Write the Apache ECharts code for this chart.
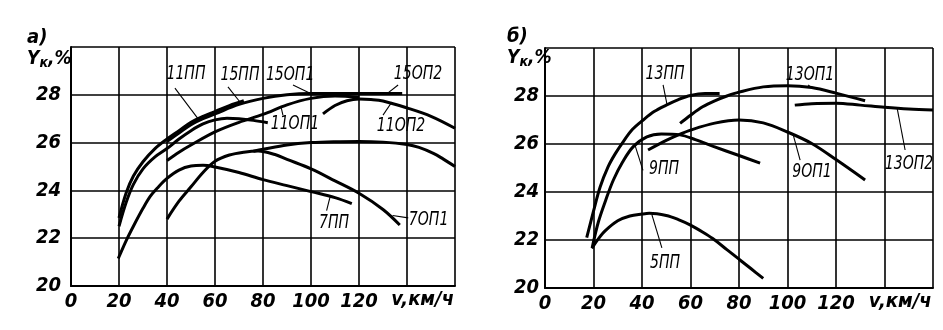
<!DOCTYPE html>
<html><head><meta charset="utf-8">
<script src="https://cdn.jsdelivr.net/npm/echarts/dist/echarts.min.js"></script>
<style>html,body{margin:0;padding:0;background:#fff}#c{width:943px;height:330px}</style>
</head><body><div id="c"></div>
<script>
// ---- axis tick labels ----
const xTickLabels = [0, 20, 40, 60, 80, 100, 120];
const yTickLabels = [20, 22, 24, 26, 28];
const xUnit = 'v,км/ч';
const yName = ['Y', 'к', ',%'];
const panelTitles = ['а)', 'б)'];

// ---- panel a curves: [v km/h, Yk %] ----
const a11PP  = [[20,22.5],[23,23.5],[26,24.25],[30,24.9],[35,25.4],[40,25.75],[45,26.15],[50,26.5],[55,26.78],[60,26.95],[65,27.02],[70,27.0],[76,26.93],[82,26.83]];
const a15PP  = [[20,22.85],[23,23.9],[26,24.6],[30,25.2],[35,25.75],[40,26.15],[45,26.5],[50,26.85],[55,27.1],[60,27.3],[66,27.55],[72,27.75]];
const a15OP1 = [[40,26.05],[45,26.4],[50,26.75],[55,27.0],[60,27.2],[70,27.6],[80,27.85],[90,28.0],[100,28.05],[108,28.05],[114,28.03]];
const a15OP2 = [[100,28.03],[110,28.05],[120,28.05],[130,28.05],[138,28.05]];
const a11OP1 = [[40,25.25],[45,25.6],[50,25.9],[60,26.45],[70,26.85],[80,27.18],[90,27.58],[100,27.85],[110,27.95],[120,27.9]];
const a11OP2 = [[105,27.2],[110,27.55],[115,27.75],[120,27.82],[125,27.8],[130,27.74],[140,27.45],[150,27.1],[160,26.6]];
const a7PP   = [[19.7,21.15],[23,21.9],[26,22.5],[30,23.25],[33,23.75],[36,24.1],[40,24.5],[45,24.85],[50,25.02],[55,25.05],[60,24.98],[70,24.75],[80,24.45],[90,24.2],[100,23.95],[110,23.7],[117,23.45]];
const a7OP1  = [[40,22.8],[45,23.55],[50,24.15],[55,24.75],[60,25.22],[66,25.48],[72,25.6],[78,25.65],[85,25.5],[90,25.3],[100,24.9],[110,24.4],[120,23.88],[130,23.2],[137,22.55]];
const a7OP2  = [[76,25.64],[80,25.72],[90,25.9],[100,26.0],[110,26.04],[120,26.05],[130,26.02],[140,25.92],[145,25.8],[151,25.55],[155,25.32],[160,25.0]];

// ---- panel b curves ----
const b13PP  = [[17.2,22.1],[20,23.2],[22.7,24.2],[26,25.05],[29,25.6],[32.3,26.1],[36,26.6],[40.5,27.0],[45,27.35],[50,27.62],[55,27.85],[60,28.02],[66,28.1],[72,28.1]];
const b9PP   = [[19.5,21.7],[22,22.75],[25,23.65],[28.2,24.5],[32,25.25],[36.4,25.89],[42,26.3],[48,26.42],[55.7,26.38],[62,26.18],[69.4,25.9],[80,25.52],[88.7,25.2]];
const b5PP   = [[19.3,21.65],[22,22.05],[25,22.4],[30,22.8],[35,23.0],[40,23.08],[43,23.11],[50,23.02],[55,22.85],[60,22.62],[65,22.33],[69,22.07],[75,21.6],[80,21.2],[85,20.8],[90,20.4]];
const b9OP1  = [[42.5,25.75],[50,26.15],[55,26.38],[60,26.58],[70,26.87],[80,27.0],[90,26.88],[100,26.5],[110,26.02],[120,25.35],[132,24.5]];
const b13OP1 = [[55.7,26.86],[60,27.2],[65,27.55],[70,27.8],[75,28.0],[80,28.16],[90,28.38],[100,28.43],[110,28.35],[120,28.12],[132,27.8]];
const b13OP2 = [[103,27.62],[110,27.68],[120,27.7],[130,27.62],[140,27.53],[150,27.46],[160,27.42]];

// ---- curve names with label anchor and leader ends (data units) ----
const curveNamesA = ['11ПП','15ПП','15ОП1','15ОП2','11ОП1','11ОП2','7ПП','7ОП1'];
const labelAtA    = [[47.9,28.87],[70.4,28.83],[91.3,28.83],[144.6,28.87],[93.3,26.78],[137.5,26.69],[109.6,22.64],[149,22.76]];
const leaderA     = [[[43.3,28.28],[52.9,27.0]],[[65.4,28.33],[70.4,27.7]],[[92.5,28.41],[99.6,28.06]],[[136.3,28.41],[131.7,28.05]],
                     [[88.3,27.15],[87.5,27.5]],[[130,27.15],[133.7,27.7]],[[106.5,23.15],[108,23.75]],[[140.5,22.85],[134,22.95]]];
const curveNamesB = ['13ПП','13ОП1','9ПП','9ОП1','13ОП2','5ПП'];
const labelAtB    = [[49.5,28.92],[109.3,28.88],[49.1,24.96],[110.1,24.83],[150.1,25.17],[49.5,21.04]];
const leaderB     = [[[48.7,28.46],[50.3,27.65]],[[108.5,28.46],[110,28.35]],[[40.4,24.9],[37.1,25.95]],[[105.2,25.33],[102.3,26.4]],
                     [[148.5,25.75],[145.2,27.5]],[[48.2,21.67],[44.1,23.05]]];

const curvesA = [a11PP,a15PP,a15OP1,a15OP2,a11OP1,a11OP2,a7PP,a7OP1,a7OP2];
const curvesB = [b13PP,b9PP,b5PP,b9OP1,b13OP1,b13OP2];

const FONT = "'Liberation Sans Narrow','DejaVu Sans Condensed',sans-serif";

function xAx(gi, margin){
  return {type:'value', gridIndex:gi, min:0, max:160, interval:20,
    axisLine:{show:true, onZero:false, lineStyle:{color:'#000', width:2}},
    axisTick:{show:false},
    splitLine:{show:true, lineStyle:{color:'#000', width:1.6}},
    axisLabel:{color:'#000', fontFamily:FONT, fontStyle:'italic', fontWeight:'bold', fontSize:20, margin:margin,
      formatter: v => xTickLabels.includes(v) ? String(v) : ''}};
}
function yAx(gi, margin){
  return {type:'value', gridIndex:gi, min:20, max:30, interval:2,
    axisLine:{show:true, onZero:false, lineStyle:{color:'#000', width:2}},
    axisTick:{show:false},
    splitLine:{show:true, lineStyle:{color:'#000', width:1.6}},
    axisLabel:{color:'#000', fontFamily:FONT, fontStyle:'italic', fontWeight:'bold', fontSize:20, margin:margin,
      formatter: v => yTickLabels.includes(v) ? String(v) : ''}};
}

const series = [];
curvesA.forEach(d => series.push({type:'line', xAxisIndex:0, yAxisIndex:0, data:d, smooth:0.35, showSymbol:false, silent:true,
  lineStyle:{color:'#000', width:3}}));
curvesB.forEach(d => series.push({type:'line', xAxisIndex:1, yAxisIndex:1, data:d, smooth:0.35, showSymbol:false, silent:true,
  lineStyle:{color:'#000', width:3}}));
leaderA.forEach(d => series.push({type:'line', xAxisIndex:0, yAxisIndex:0, data:d, showSymbol:false, silent:true,
  lineStyle:{color:'#000', width:1.1}}));
leaderB.forEach(d => series.push({type:'line', xAxisIndex:1, yAxisIndex:1, data:d, showSymbol:false, silent:true,
  lineStyle:{color:'#000', width:1.1}}));

const chart = echarts.init(document.getElementById('c'), null, {renderer:'canvas'});
chart.setOption({
  animation:false,
  backgroundColor:'#fff',
  grid:[{left:71, top:47, width:384, height:239}, {left:545, top:48, width:388, height:240}],
  xAxis:[xAx(0,6), xAx(1,6)],
  yAxis:[yAx(0,10), yAx(1,6)],
  series: series
});

// text annotations placed through the axes' own scales
const g = [];
function addLabel(gi, name, at){
  const p = chart.convertToPixel({gridIndex:gi}, at);
  g.push({type:'text', x:p[0], y:p[1], scaleX:0.78, silent:true,
    style:{text:name, fill:'#000', font:"italic 20px " + FONT, textAlign:'center', textVerticalAlign:'middle'}});
}
curveNamesA.forEach((n,i) => addLabel(0, n, labelAtA[i]));
curveNamesB.forEach((n,i) => addLabel(1, n, labelAtB[i]));

function addTitle(x, y, gi){
  g.push({type:'text', x:x, y:y, silent:true,
    style:{text:panelTitles[gi], fill:'#000', font:"italic bold 20px " + FONT, textAlign:'left', textVerticalAlign:'middle'}});
  g.push({type:'text', x:x, y:y+21, silent:true,
    style:{text:'{a|' + yName[0] + '}{b|' + yName[1] + '}{a|' + yName[2] + '}', textAlign:'left', textVerticalAlign:'middle',
      rich:{a:{fill:'#000', fontFamily:FONT, fontStyle:'italic', fontWeight:'bold', fontSize:19},
            b:{fill:'#000', fontFamily:FONT, fontStyle:'italic', fontWeight:'bold', fontSize:14, padding:[8,0,0,0]}}}});
}
addTitle(27, 38, 0);
addTitle(507, 37, 1);

function addUnit(gi){
  const p = chart.convertToPixel({gridIndex:gi}, [146.5, 20]);
  g.push({type:'text', x:p[0], y:p[1]+14, silent:true,
    style:{text:xUnit, fill:'#000', font:"italic bold 20px " + FONT, textAlign:'center', textVerticalAlign:'middle'}});
}
addUnit(0); addUnit(1);

chart.setOption({graphic:g});
</script>
</body></html>
